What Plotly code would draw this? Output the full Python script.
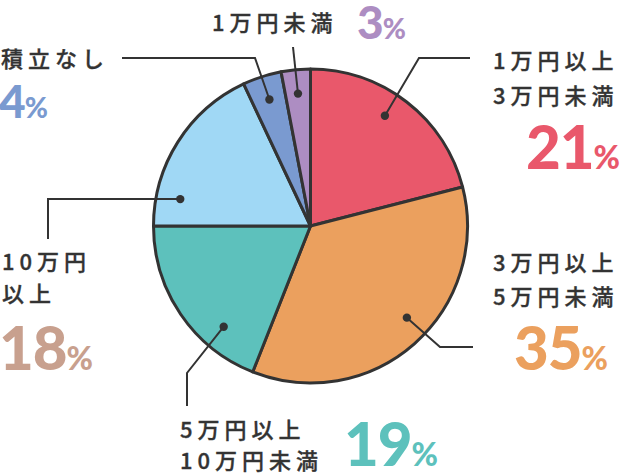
import math
import plotly.graph_objects as go

# ---------------- data ----------------
categories = ["1万円以上3万円未満", "3万円以上5万円未満", "5万円以上10万円未満",
              "10万円以上", "積立なし", "1万円未満"]
values = [21, 35, 19, 18, 4, 3]
label_lines = [["1万円以上", "3万円未満"],
               ["3万円以上", "5万円未満"],
               ["5万円以上", "10万円未満"],
               ["10万円", "以上"],
               ["積立なし"],
               ["1万円未満"]]

# ---------------- style ----------------
slice_colors = ["#E9586B", "#EBA05E", "#5DC1BC", "#A0D8F5", "#7A9AD0", "#AD8DC2"]
pct_colors = ["#E9586B", "#EBA05E", "#5DC1BC", "#C8A08E", "#7A9AD0", "#AD8DC2"]
INK = "#333333"
W, H = 620, 474
CX, CY, R = 310.5, 226, 157

def px(x):
    return x / W

def py(y):
    return 1 - y / H

fig = go.Figure()
fig.add_trace(go.Pie(
    labels=categories, values=values, sort=False, direction="clockwise",
    rotation=0, textinfo="none", hoverinfo="label+percent",
    marker=dict(colors=slice_colors, line=dict(color=INK, width=3)),
    domain=dict(x=[px(CX - R), px(CX + R)], y=[py(CY + R), py(CY - R)]),
    showlegend=False,
))

# leader-line dots, placed inside each slice from its angle
dot_frac = [0.45, 0.46, 0.28, 0.18, 0.5, 0.5]
dot_r = 0.847 * R
elbows = [[(419, 58), (470, 58)],
          [(440, 347), (473, 347)],
          [(187, 373), (187, 406)],
          [(48, 199), (48, 239)],
          [(255, 58), (122, 58)],
          [(293, 47)]]

shapes = []
total = sum(values)
cum = 0
for i, v in enumerate(values):
    ang = math.radians((cum + dot_frac[i] * v) / total * 360)
    cum += v
    dx = CX + dot_r * math.sin(ang)
    dy = CY - dot_r * math.cos(ang)
    pts = [(dx, dy)] + elbows[i]
    path = "M " + " L ".join(f"{px(a):.5f},{py(b):.5f}" for a, b in pts)
    shapes.append(dict(type="path", path=path, xref="paper", yref="paper",
                       line=dict(color=INK, width=2), layer="above"))
    rd = 4.2
    shapes.append(dict(type="circle", xref="paper", yref="paper",
                       x0=px(dx - rd), x1=px(dx + rd), y0=py(dy + rd), y1=py(dy - rd),
                       fillcolor=INK, line=dict(width=0), layer="above"))

LABEL_FONT = dict(family="Noto Sans CJK JP", size=22, color=INK, weight=500)

def lab(text, x, y):
    return dict(text=(f"<span style='letter-spacing:5px;stroke:{INK};"
                      f"stroke-width:0.35px'>{text}</span>"),
                x=px(x), y=py(y), xref="paper", yref="paper",
                xanchor="left", yanchor="middle", showarrow=False, font=LABEL_FONT)

def pct(i, x, y, big):
    ds, ps = (60, 32) if big else (46, 28)
    txt = (f"<span style='font-size:{ds}px;letter-spacing:-1px'>{values[i]}</span>"
           f"<span style='font-size:{ps}px'>%</span>")
    return dict(text=txt, x=px(x), y=py(y), xref="paper", yref="paper",
                xanchor="left", yanchor="middle", showarrow=False,
                font=dict(family="Lato", size=ds, color=pct_colors[i], weight=900))

# label positions (text lines and percent figures)
line_pos = [[(491, 59), (491, 94)],
            [(491, 261), (491, 295)],
            [(178, 428), (178, 459)],
            [(0, 260), (0, 292)],
            [(-1, 57)],
            [(210, 21)]]
pct_pos = [(524, 146, True), (512, 347, True), (342, 443, True),
           (-3, 347, True), (-3, 101, False), (355, 21, False)]

annotations = []
for i in range(len(values)):
    for t, (x, y) in zip(label_lines[i], line_pos[i]):
        annotations.append(lab(t, x, y))
    x, y, big = pct_pos[i]
    annotations.append(pct(i, x, y, big))

fig.update_layout(
    width=W, height=H, margin=dict(l=0, r=0, t=0, b=0),
    paper_bgcolor="white", plot_bgcolor="white",
    shapes=shapes, annotations=annotations,
)

fig.write_html("out.html", config=dict(displayModeBar=False),
               post_script="document.body.style.margin='0';document.body.style.overflow='hidden';")
